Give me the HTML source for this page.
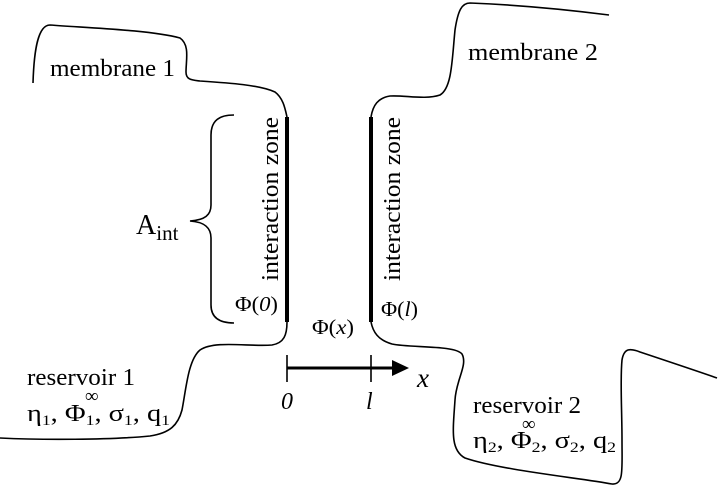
<!DOCTYPE html>
<html><head><meta charset="utf-8"><style>
html,body{margin:0;padding:0;background:#fff}
svg{display:block}
text{font-family:"Liberation Serif",serif;fill:#000}
</style></head><body>
<svg width="720" height="486" viewBox="0 0 720 486" xmlns="http://www.w3.org/2000/svg">
<g fill="none" stroke="#000" stroke-width="1.6">
<path d="M33,83 C34,50 38,25 50,25 C90,28 150,30 180,38 C190,45 186,60 186,72 C186,80 192,80 200,81 C230,83 260,85 275,92 C283,98 285,108 287,117"/>
<path d="M287,322 C287,335 284,343 272,345 C250,347 215,340 200,350 C188,360 186,390 182,410 C178,425 170,433 150,436 C110,440 40,440 0,438"/>
<path d="M371,117 C373,105 378,98 390,96 C405,95 425,100 440,95 C452,88 452,60 455,30 C458,10 462,3 470,3 C520,5 570,10 609,15"/>
<path d="M371,322 C373,332 378,340 392,344 C410,348 455,345 462,354 C468,365 456,380 455,400 C453,430 450,450 465,458 C500,470 580,478 612,484 C624,485 622,470 622,440 C622,410 620,380 622,360 C624,348 630,348 640,352 C670,362 700,372 717,378"/>
<path d="M234,115 C220,115 211,120 211,135 L211,205 C211,215 205,220 190,221 C205,222 211,228 211,238 L211,305 C211,318 220,323 234,323"/>
</g>
<line x1="287" y1="117" x2="287" y2="322" stroke="#000" stroke-width="4"/>
<line x1="371" y1="117" x2="371" y2="322" stroke="#000" stroke-width="4"/>
<g stroke="#000" stroke-width="1.6">
<line x1="287" y1="355" x2="287" y2="382"/>
<line x1="371" y1="355" x2="371" y2="382"/>
<line x1="287" y1="368" x2="396" y2="368" stroke-width="3"/>
</g>
<polygon points="409,368 392,360 392,376" fill="#000"/>
<text x="50" y="76" font-size="24" textLength="125" lengthAdjust="spacingAndGlyphs">membrane 1</text>
<text x="468" y="60" font-size="24" textLength="130" lengthAdjust="spacingAndGlyphs">membrane 2</text>
<text x="136" y="234" font-size="28">A<tspan font-size="21" dy="6">int</tspan></text>
<text transform="translate(278,281) rotate(-90)" font-size="24" textLength="164" lengthAdjust="spacingAndGlyphs">interaction zone</text>
<text transform="translate(400,281) rotate(-90)" font-size="24" textLength="164" lengthAdjust="spacingAndGlyphs">interaction zone</text>
<text x="235" y="311" font-size="21" textLength="43" lengthAdjust="spacingAndGlyphs">Φ(<tspan font-style="italic">0</tspan>)</text>
<text x="381" y="316" font-size="21" textLength="37" lengthAdjust="spacingAndGlyphs">Φ(<tspan font-style="italic">l</tspan>)</text>
<text x="312" y="334" font-size="21" textLength="42" lengthAdjust="spacingAndGlyphs">Φ(<tspan font-style="italic">x</tspan>)</text>
<text x="281" y="409" font-size="24" font-style="italic">0</text>
<text x="366" y="409" font-size="24" font-style="italic">l</text>
<text x="417" y="387" font-size="27" font-style="italic">x</text>
<text x="27" y="385" font-size="24" textLength="108" lengthAdjust="spacingAndGlyphs">reservoir 1</text>
<text x="27" y="421" font-size="24" textLength="143" lengthAdjust="spacingAndGlyphs">η<tspan font-size="15" dy="4">1</tspan><tspan dy="-4">, Φ</tspan><tspan font-size="15" dy="4">1</tspan><tspan dy="-4">, σ</tspan><tspan font-size="15" dy="4">1</tspan><tspan dy="-4">,  q</tspan><tspan font-size="15" dy="4">1</tspan></text>
<text x="85" y="402" font-size="19">∞</text>
<text x="473" y="413" font-size="24" textLength="108" lengthAdjust="spacingAndGlyphs">reservoir 2</text>
<text x="473" y="448" font-size="24" textLength="143" lengthAdjust="spacingAndGlyphs">η<tspan font-size="15" dy="4">2</tspan><tspan dy="-4">, Φ</tspan><tspan font-size="15" dy="4">2</tspan><tspan dy="-4">, σ</tspan><tspan font-size="15" dy="4">2</tspan><tspan dy="-4">,  q</tspan><tspan font-size="15" dy="4">2</tspan></text>
<text x="522" y="430" font-size="19">∞</text>
</svg>
</body></html>
